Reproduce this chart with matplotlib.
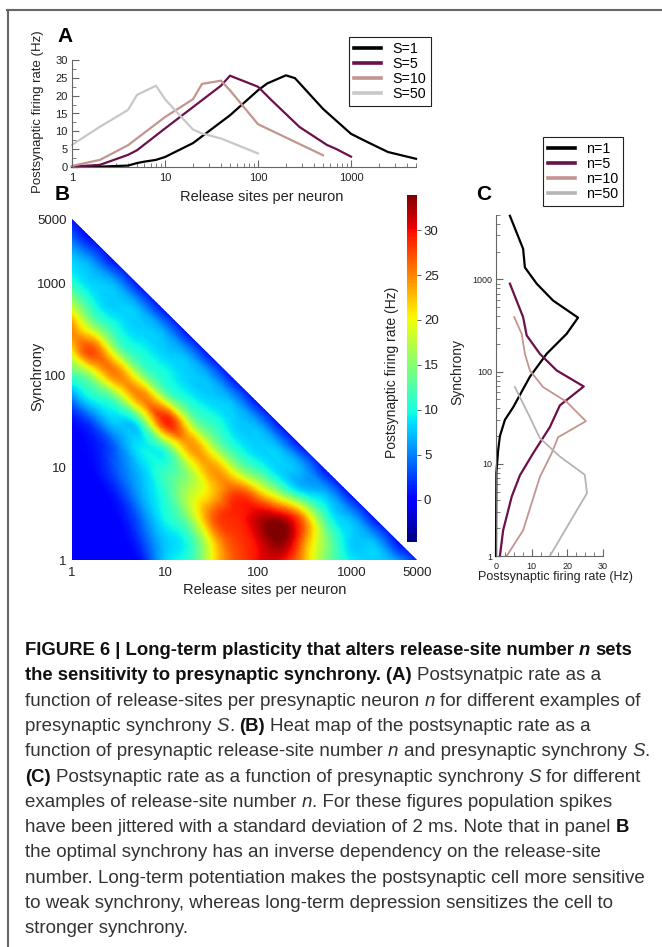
import numpy as np
import matplotlib
matplotlib.use('Agg')
import matplotlib.pyplot as plt
import matplotlib.tri as mtri
from matplotlib import ticker, font_manager
from matplotlib.patches import Polygon
from matplotlib.lines import Line2D

W, H = 662, 947

# ---- panel A: rate (Hz) vs release sites per neuron, one curve per synchrony S
A_n_s1 = [1, 2, 4, 5, 6, 8, 10, 20, 50, 100, 125, 200, 250, 500, 1000, 1500, 2500, 5000]
A_r_s1 = [0, 0.1, 0.4, 1.1, 1.5, 2, 2.8, 6.7, 14.5, 21.5, 23.4, 25.7, 24.9, 16.3, 9.3, 7, 4.2, 2.3]
A_n_s5 = [1, 2, 4, 5, 10, 20, 40, 50, 100, 140, 280, 550, 700, 1000]
A_r_s5 = [0.1, 0.6, 3.4, 4.7, 10.8, 16.8, 22.8, 25.6, 22.5, 18.7, 11.2, 6.2, 5.0, 2.9]
A_n_s10 = [1, 2, 4, 10, 20, 25, 40, 50, 100, 500]
A_r_s10 = [0.3, 2, 6.1, 14, 19, 23.3, 24.2, 21.5, 12, 3.3]
A_n_s50 = [1, 2, 4, 5, 8, 10, 20, 25, 40, 100]
A_r_s50 = [6.2, 11.3, 16, 20.2, 22.8, 19, 10.5, 9.4, 8, 3.8]

# ---- panel C: synchrony vs rate (Hz), one curve per release-site number n
C_r_n1 = [0, 0.1, 0.6, 1.1, 2.5, 4.8, 9.5, 14.2, 19.8, 23, 16, 11.4, 8.1, 7.6, 3.9]
C_s_n1 = [1, 8, 14, 20, 30, 41, 88, 156, 257, 385, 590, 900, 1350, 2150, 4900]
C_r_n5 = [1.1, 2.0, 4.4, 6.7, 10.4, 15.1, 17.9, 24.6, 17, 12.3, 8.6, 7.6, 3.9]
C_s_n5 = [1, 1.9, 4.4, 7.5, 13, 25, 43, 69, 103, 156, 247, 390, 900]
C_r_n10 = [3, 7.6, 12.3, 15.6, 17.4, 25.2, 19.8, 13.2, 9.5, 8.1, 7.2, 5.1]
C_s_n10 = [1, 1.9, 7.2, 13, 19.4, 29, 47, 68, 103, 156, 257, 390]
C_r_n50 = [15.1, 25.5, 24.9, 17.9, 12.3, 9.5, 5.3]
C_s_n50 = [1, 4.8, 7.6, 12, 19, 32, 68]

# ---- panel B: rate (Hz) read on a grid of log10(n) x log10(S), 0.25 decade steps
B_log_n = [0, 0.25, 0.5, 0.75, 1.0, 1.25, 1.5, 1.75, 2.0, 2.25, 2.5, 2.75, 3.0, 3.25, 3.5, 3.75]
B_log_s = [0, 0.25, 0.5, 0.75, 1.0, 1.25, 1.5, 1.75, 2.0, 2.25, 2.5, 2.75, 3.0, 3.25, 3.5, 3.75]
B_rate = [
    [0, 0, 0, 1, 8, 11, 20, 27, 30, 30, 23, 14, 9, 8, 6, 0],
    [0, 0, 0, 3, 8, 11, 22, 28, 31, 34, 25, 14, 8, 6, 0, 0],
    [0, 0, 0.5, 5, 10, 16, 26, 29, 31, 30, 22, 10, 6, 0, 0, 0],
    [0, 0, 2, 7, 11, 17, 22, 27, 22, 14, 8, 6, 0, 0, 0, 0],
    [0, 0.5, 4, 8, 11, 17, 24, 17, 11, 8, 6, 0, 0, 0, 0, 0],
    [0, 1, 5, 9, 14, 24, 17, 10, 8, 6, 0, 0, 0, 0, 0, 0],
    [0.5, 4, 8, 13, 29, 18, 11, 8, 6, 0, 0, 0, 0, 0, 0, 0],
    [5, 10, 15, 25, 17, 10, 8, 6, 0, 0, 0, 0, 0, 0, 0, 0],
    [12, 18, 25, 16, 10, 8, 6, 0, 0, 0, 0, 0, 0, 0, 0, 0],
    [20, 27, 16, 10, 8, 6, 0, 0, 0, 0, 0, 0, 0, 0, 0, 0],
    [25, 17, 10, 8, 6, 0, 0, 0, 0, 0, 0, 0, 0, 0, 0, 0],
    [18, 10, 8, 6, 0, 0, 0, 0, 0, 0, 0, 0, 0, 0, 0, 0],
    [11, 8, 6, 0, 0, 0, 0, 0, 0, 0, 0, 0, 0, 0, 0, 0],
    [8, 5, 0, 0, 0, 0, 0, 0, 0, 0, 0, 0, 0, 0, 0, 0],
    [4, 0, 0, 0, 0, 0, 0, 0, 0, 0, 0, 0, 0, 0, 0, 0],
    [0, 0, 0, 0, 0, 0, 0, 0, 0, 0, 0, 0, 0, 0, 0, 0],
]
B_vmin, B_vmax = -4.7, 33.9
B_cbar_ticks = [0, 5, 10, 15, 20, 25, 30]

S_labels = ['S=1', 'S=5', 'S=10', 'S=50']
N_labels = ['n=1', 'n=5', 'n=10', 'n=50']
colors = ['#000000', '#6b1049', '#c39590', '#c8c8c8']

caption = [
    [("FIGURE 6 | Long-term plasticity that alters release-site number ", 'b'), ("n", 'bi'), (" sets", 'b')],
    [("the sensitivity to presynaptic synchrony. (A)", 'b'), (" Postsynatpic rate as a", 'r')],
    [("function of release-sites per presynaptic neuron ", 'r'), ("n", 'i'), (" for different examples of", 'r')],
    [("presynaptic synchrony ", 'r'), ("S", 'i'), (". ", 'r'), ("(B)", 'b'), (" Heat map of the postsynaptic rate as a", 'r')],
    [("function of presynaptic release-site number ", 'r'), ("n", 'i'), (" and presynaptic synchrony ", 'r'), ("S", 'i'), (".", 'r')],
    [("(C)", 'b'), (" Postsynaptic rate as a function of presynaptic synchrony ", 'r'), ("S", 'i'), (" for different", 'r')],
    [("examples of release-site number ", 'r'), ("n", 'i'), (". For these figures population spikes", 'r')],
    [("have been jittered with a standard deviation of 2 ms. Note that in panel ", 'r'), ("B", 'b')],
    [("the optimal synchrony has an inverse dependency on the release-site", 'r')],
    [("number. Long-term potentiation makes the postsynaptic cell more sensitive", 'r')],
    [("to weak synchrony, whereas long-term depression sensitizes the cell to", 'r')],
    [("stronger synchrony.", 'r')],
]

fonts = {f.name for f in font_manager.fontManager.ttflist}
SANS = 'Liberation Sans' if 'Liberation Sans' in fonts else 'DejaVu Sans'
NARROW = 'Liberation Sans Narrow' if 'Liberation Sans Narrow' in fonts else SANS
plt.rcParams['font.family'] = SANS

fig = plt.figure(figsize=(W / 100, H / 100), dpi=100)


def box(x0, y0, x1, y1):
    # pixel box (top-left origin) -> figure rect
    return [x0 / W, 1 - y1 / H, (x1 - x0) / W, (y1 - y0) / H]


def ftext(x, y, s, **kw):
    return fig.text(x / W, 1 - y / H, s, **kw)


def igor_axes(ax):
    ax.spines[['top', 'right']].set_visible(False)
    for s in ['left', 'bottom']:
        ax.spines[s].set_color('#666666')
        ax.spines[s].set_linewidth(0.8)
    ax.patch.set_alpha(0)
    ax.tick_params(which='both', direction='in', colors='#666666', labelcolor='#222222')
    ax.tick_params(which='major', length=5, width=0.8)
    ax.tick_params(which='minor', length=3, width=0.6)


# ---- panel A
axA = fig.add_axes(box(72, 60, 416, 167))
A_series = [(A_n_s1, A_r_s1), (A_n_s5, A_r_s5), (A_n_s10, A_r_s10), (A_n_s50, A_r_s50)]
for (n, r), c in zip(A_series, colors):
    axA.plot(n, r, color=c, lw=1.6, clip_on=False)
axA.set_xscale('log')
axA.set_xlim(1, 5000)
axA.set_ylim(0, 30)
igor_axes(axA)
axA.xaxis.set_major_locator(ticker.FixedLocator([1, 10, 100, 1000]))
axA.xaxis.set_major_formatter(ticker.FixedFormatter(['1', '10', '100', '1000']))
axA.xaxis.set_minor_locator(ticker.LogLocator(base=10, subs=np.arange(2, 10), numticks=20))
axA.xaxis.set_minor_formatter(ticker.NullFormatter())
axA.yaxis.set_major_locator(ticker.MultipleLocator(5))
axA.yaxis.set_minor_locator(ticker.MultipleLocator(2.5))
axA.tick_params(labelsize=8)
axA.tick_params(axis='y', pad=3)
axA.tick_params(axis='x', pad=4)

hA = [Line2D([], [], color=c, lw=2.6) for c in colors]
legA = axA.legend(hA, S_labels, loc='upper left', bbox_to_anchor=(349 / W, 1 - 37 / H),
                  bbox_transform=fig.transFigure, borderaxespad=0, fontsize=10.3,
                  handlelength=1.9, handletextpad=0.75, labelspacing=0.08, borderpad=0.35,
                  fancybox=False, framealpha=1, edgecolor='#222222')
legA.get_frame().set_linewidth(0.8)

# ---- panel B (heat map on log10 coordinates)
axB = fig.add_axes(box(72, 219, 417, 560))
gn, gs = np.meshgrid(B_log_n, B_log_s)
nx, ny = len(B_log_n), len(B_log_s)
tris = []
for j in range(ny - 1):
    for i in range(nx - 1):
        p00, p10 = j * nx + i, j * nx + i + 1
        p01, p11 = (j + 1) * nx + i, (j + 1) * nx + i + 1
        # split cells along the anti-diagonal, the direction of the ridge
        tris.append([p00, p10, p01])
        tris.append([p10, p11, p01])
triang = mtri.Triangulation(gn.ravel(), gs.ravel(), tris)
z = np.array(B_rate, dtype=float).ravel()
interp = mtri.CubicTriInterpolator(triang, z, kind='min_E')
tri_f, z_f = mtri.UniformTriRefiner(triang).refine_field(z, triinterpolator=interp, subdiv=3)
pc = axB.tripcolor(tri_f, z_f, cmap='jet', vmin=B_vmin, vmax=B_vmax, shading='gouraud')
top = np.log10(5000)
tri_patch = Polygon([[0, 0], [top, 0], [0, top]], closed=True, transform=axB.transData)
pc.set_clip_path(tri_patch)
axB.set_xlim(0, top)
axB.set_ylim(0, top)
for s in axB.spines.values():
    s.set_visible(False)
b_ticks = [0, 1, 2, 3, top]
b_labels = ['1', '10', '100', '1000', '5000']
axB.set_xticks(b_ticks, b_labels)
axB.set_yticks(b_ticks, b_labels)
axB.tick_params(length=0, labelsize=9.5, labelcolor='#222222')
axB.tick_params(axis='x', pad=5)
axB.tick_params(axis='y', pad=4)

cax = fig.add_axes(box(407, 195, 417, 542))
cb = fig.colorbar(pc, cax=cax, ticks=B_cbar_ticks)
cb.outline.set_visible(False)
cax.tick_params(length=3, width=0.6, labelsize=9.5, pad=2, color='#444444', labelcolor='#222222')

# ---- panel C
axC = fig.add_axes(box(496, 215, 603, 556))
C_series = [(C_r_n1, C_s_n1), (C_r_n5, C_s_n5), (C_r_n10, C_s_n10), (C_r_n50, C_s_n50)]
c_lw = [1.6, 1.6, 1.3, 1.3]
c_cols = ['#000000', '#6b1049', '#c39590', '#b4b4b4']
for (r, s), c, lw in zip(C_series, c_cols, c_lw):
    axC.plot(r, s, color=c, lw=lw, clip_on=False)
axC.set_yscale('log')
axC.set_ylim(1, 5000)
axC.set_xlim(0, 30)
igor_axes(axC)
axC.yaxis.set_major_locator(ticker.FixedLocator([1, 10, 100, 1000]))
axC.yaxis.set_major_formatter(ticker.FixedFormatter(['1', '10', '100', '1000']))
axC.yaxis.set_minor_locator(ticker.LogLocator(base=10, subs=np.arange(2, 10), numticks=20))
axC.yaxis.set_minor_formatter(ticker.NullFormatter())
axC.xaxis.set_major_locator(ticker.MultipleLocator(10))
axC.xaxis.set_minor_locator(ticker.MultipleLocator(2.5))
axC.tick_params(labelsize=6.5)
axC.tick_params(axis='x', pad=4)
axC.tick_params(axis='y', pad=3)

hC = [Line2D([], [], color=c, lw=2.6) for c in c_cols]
legC = axC.legend(hC, N_labels, loc='upper left', bbox_to_anchor=(543 / W, 1 - 137 / H),
                  bbox_transform=fig.transFigure, borderaxespad=0, fontsize=10.3,
                  handlelength=1.9, handletextpad=0.75, labelspacing=0.08, borderpad=0.35,
                  fancybox=False, framealpha=1, edgecolor='#222222')
legC.get_frame().set_linewidth(0.8)

# ---- labels
ftext(65, 36, 'A', fontsize=15, fontweight='bold', ha='center', va='center')
ftext(62, 195, 'B', fontsize=15, fontweight='bold', ha='center', va='center')
ftext(484, 194, 'C', fontsize=15, fontweight='bold', ha='center', va='center')
ftext(38, 112, 'Postsynaptic firing rate (Hz)', fontsize=9.5, rotation=90, ha='center', va='center', color='#222222')
ftext(262, 197, 'Release sites per neuron', fontsize=10.5, ha='center', va='center', color='#222222')
ftext(37, 376, 'Synchrony', fontsize=10.5, rotation=90, ha='center', va='center', color='#222222')
ftext(265, 590, 'Release sites per neuron', fontsize=10.5, ha='center', va='center', color='#222222')
ftext(392, 372, 'Postsynaptic firing rate (Hz)', fontsize=10, rotation=90, ha='center', va='center', color='#222222')
ftext(457, 372, 'Synchrony', fontsize=10, rotation=90, ha='center', va='center', color='#222222')
ftext(555, 577, 'Postsynaptic firing rate (Hz)', fontsize=9, ha='center', va='center', color='#222222')

# ---- frame lines
fig.add_artist(Line2D([7 / W, 1], [1 - 10 / H, 1 - 10 / H], transform=fig.transFigure, color='#666666', lw=1.5))
fig.add_artist(Line2D([8 / W, 8 / W], [1 - 10 / H, 0], transform=fig.transFigure, color='#666666', lw=1.5))

# ---- caption
renderer = fig.canvas.get_renderer()


def style_kw(st, reg_size, bold_size):
    if 'b' in st:
        return dict(family=BOLD_FAMILY, fontweight='bold', fontsize=bold_size,
                    fontstyle='italic' if 'i' in st else 'normal', color='#111111')
    return dict(family=SANS, fontweight='normal', fontsize=reg_size,
                fontstyle='italic' if 'i' in st else 'normal', color='#333333')


def width_of(s, kw):
    t = fig.text(0, 0, s, **kw)
    w = t.get_window_extent(renderer).width
    t.remove()
    return w


def seg_width(s, kw):
    core = s.strip(' ')
    nlead = len(s) - len(s.lstrip(' '))
    ntrail = len(s) - len(s.rstrip(' '))
    sp = width_of('n n', kw) - width_of('nn', kw)
    w = width_of(core, kw) if core else 0
    return w, nlead * sp, ntrail * sp


BOLD_FAMILY = SANS
reg_size = 10 * 623 / width_of(caption[9][0][0], dict(family=SANS, fontsize=10))
bw = sum(sum(seg_width(s, style_kw(st, reg_size, 10))) for s, st in caption[0])
if bw * reg_size / 10 > 625 and NARROW != SANS:
    BOLD_FAMILY = NARROW
    bw = sum(sum(seg_width(s, style_kw(st, reg_size, 10))) for s, st in caption[0])
bold_size = min(10 * 611 / bw, reg_size * 1.15)

y0, dy = 655, 25.3
for i, line in enumerate(caption):
    x = 25
    for s, st in line:
        kw = style_kw(st, reg_size, bold_size)
        w, lead, trail = seg_width(s, kw)
        x += lead
        ftext(x, y0 + i * dy, s.strip(' '), va='baseline', ha='left', **kw)
        x += w + trail

fig.savefig('out.png', dpi=100)
